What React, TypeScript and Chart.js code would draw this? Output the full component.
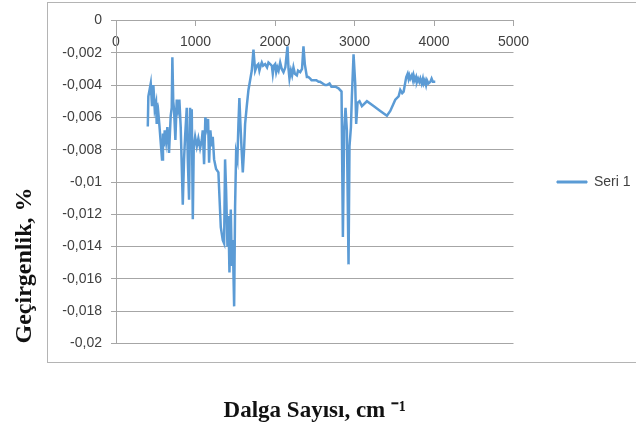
import React, { useEffect, useRef } from "react";
import { Chart, registerables } from "chart.js";

Chart.register(...registerables);

const seriesLabel = "Seri 1";
const xTitle = "Dalga Sayısı, cm ⁻¹";
const yTitle = "Geçirgenlik, %";

const wavenumbers = [
  400, 407, 437, 453, 470, 487, 504, 512, 532, 546, 579, 591, 600, 613, 630, 646, 667, 688, 701, 709,
  720, 730, 747, 764, 781, 797, 814, 827, 840, 856, 869, 890, 903, 919, 932, 944, 953, 966, 978, 995,
  1016, 1036, 1058, 1079, 1091, 1108, 1124, 1142, 1158, 1171, 1187, 1205, 1217, 1234, 1259, 1288, 1318, 1343, 1360, 1372,
  1385, 1402, 1414, 1427, 1444, 1457, 1469, 1486, 1498, 1511, 1527, 1540, 1552, 1565, 1578, 1595, 1611, 1624, 1645, 1666,
  1687, 1708, 1729, 1750, 1771, 1790, 1804, 1820, 1834, 1850, 1876, 1900, 1918, 1940, 1960, 1972, 1985, 2002, 2015, 2030,
  2045, 2065, 2085, 2107, 2130, 2157, 2170, 2182, 2200, 2215, 2232, 2250, 2275, 2290, 2317, 2340, 2358, 2375, 2401, 2420,
  2443, 2460, 2485, 2520, 2548, 2568, 2600, 2630, 2653, 2686, 2710, 2736, 2760, 2799, 2837, 2854, 2870, 2887, 2904, 2925,
  2937, 2955, 2967, 2988, 3009, 3021, 3038, 3063, 3093, 3156, 3240, 3324, 3408, 3450, 3513, 3555, 3576, 3600, 3618, 3640,
  3651, 3668, 3680, 3690, 3702, 3720, 3735, 3744, 3760, 3775, 3786, 3800, 3815, 3828, 3845, 3860, 3870, 3885, 3900, 3912,
  3930, 3954, 3970, 3987, 4016,
];

const transmittance = [
  -0.00656, -0.0047, -0.0039, -0.0053, -0.004, -0.0055, -0.0051, -0.0064, -0.0057, -0.0065, -0.0086, -0.007, -0.0078, -0.0068, -0.0075, -0.0066, -0.0082, -0.0059, -0.0054, -0.00227,
  -0.005, -0.0055, -0.0074, -0.0049, -0.0055, -0.0049, -0.0066, -0.009, -0.0114, -0.0086, -0.0072, -0.0054, -0.0086, -0.0111, -0.0054, -0.0076, -0.0055, -0.0123, -0.0078, -0.0072,
  -0.0078, -0.0073, -0.0079, -0.0074, -0.0068, -0.0089, -0.006, -0.0066, -0.0061, -0.0088, -0.0068, -0.0078, -0.0072, -0.0086, -0.0092, -0.0094, -0.0128, -0.0136, -0.0138, -0.0086,
  -0.0105, -0.014, -0.0121, -0.0156, -0.0117, -0.0152, -0.0136, -0.0177, -0.0115, -0.0082, -0.0086, -0.0064, -0.0048, -0.0064, -0.0078, -0.0094, -0.008, -0.0064, -0.0053, -0.0043,
  -0.0037, -0.0031, -0.0018, -0.0031, -0.0028, -0.0027, -0.0031, -0.0028, -0.0026, -0.0028, -0.0027, -0.0029, -0.0026, -0.0027, -0.0028, -0.0033, -0.0028, -0.0027, -0.0032, -0.0029,
  -0.0031, -0.0026, -0.003, -0.0032, -0.0029, -0.0016, -0.003, -0.0036, -0.0031, -0.0034, -0.0029, -0.0033, -0.0034, -0.0031, -0.0032, -0.003, -0.0016, -0.0027, -0.0035, -0.0035,
  -0.0036, -0.0037, -0.0037, -0.0037, -0.0038, -0.0038, -0.0039, -0.004, -0.004, -0.0039, -0.0041, -0.0041, -0.0041, -0.0042, -0.0044, -0.0134, -0.0068, -0.0054, -0.0068, -0.0151,
  -0.0078, -0.0066, -0.0047, -0.0021, -0.0039, -0.0064, -0.0051, -0.005, -0.0053, -0.005, -0.0053, -0.0056, -0.0059, -0.0056, -0.0049, -0.0047, -0.0043, -0.0045, -0.0044, -0.0038,
  -0.0035, -0.0033, -0.0036, -0.0034, -0.0036, -0.0034, -0.0037, -0.0034, -0.0037, -0.0035, -0.0038, -0.0036, -0.0038, -0.0036, -0.0039, -0.0036, -0.0039, -0.0037, -0.004, -0.0037,
  -0.0039, -0.0038, -0.0036, -0.0038, -0.0038,
];

const xMin = 0;
const xMax = 5000;
const xStep = 1000;
const yMin = -0.02;
const yMax = 0;
const yStep = 0.002;

const GRID = "#a6a6a6";
const TEXT = "#404040";
const LINE = "#5b9bd5";

const frame = {
  id: "frame",
  beforeDraw(chart: any) {
    const ctx = chart.ctx;
    ctx.save();
    ctx.fillStyle = "#ffffff";
    ctx.fillRect(0, 0, chart.width, chart.height);
    ctx.strokeStyle = "#b4b4b4";
    ctx.lineWidth = 1;
    ctx.strokeRect(47.5, 2.5, 640, 360);
    ctx.restore();
  },
};

export default function App() {
  const ref = useRef<HTMLCanvasElement | null>(null);

  useEffect(() => {
    if (!ref.current) return;
    Chart.defaults.font.family = "'Liberation Sans', Arial, sans-serif";
    const points = wavenumbers.map((x, i) => ({ x, y: transmittance[i] }));
    const chart = new Chart(ref.current, {
      type: "line",
      data: {
        datasets: [
          {
            label: seriesLabel,
            data: points,
            borderColor: LINE,
            backgroundColor: LINE,
            borderWidth: 2.5,
            pointRadius: 0,
            tension: 0,
            fill: false,
          },
        ],
      },
      plugins: [frame],
      options: {
        responsive: false,
        animation: false,
        devicePixelRatio: 1,
        layout: { padding: { left: 0, top: 20.5, right: 0, bottom: 0 } },
        plugins: {
          tooltip: { enabled: false },
          legend: {
            position: "right",
            fullSize: false,
            align: "center",
            maxWidth: 80.4,
            labels: {
              color: TEXT,
              font: { size: 14 },
              boxWidth: 30,
              boxHeight: 2,
              padding: 1.4,
              generateLabels: (c: any) => {
                const items = (Chart as any).defaults.plugins.legend.labels.generateLabels(c);
                return items.map((it: any) => ({ ...it, lineWidth: 1, strokeStyle: LINE, fillStyle: LINE }));
              },
            },
          },
        },
        scales: {
          x: {
            type: "linear",
            position: { y: 0 } as any,
            min: xMin,
            max: xMax,
            grid: { drawOnChartArea: false, drawTicks: true, tickLength: 5, color: GRID },
            border: { display: true, color: GRID },
            ticks: {
              stepSize: xStep,
              color: TEXT,
              font: { size: 14 },
              padding: 8,
              maxRotation: 0,
              callback: (v: any) => String(v),
            },
          },
          xTitleAxis: {
            type: "linear",
            axis: "x",
            position: "bottom",
            min: xMin,
            max: xMax,
            grid: { display: false, drawTicks: false },
            border: { display: false },
            ticks: { display: false },
            title: {
              display: true,
              text: xTitle,
              color: "#111111",
              font: { family: "'Liberation Serif', 'Times New Roman', serif", size: 23, weight: "bold" },
              padding: { top: 0, bottom: 5 },
            },
            afterFit: (s: any) => {
              s.height = 86.5;
            },
          } as any,
          y: {
            type: "linear",
            position: "left",
            min: yMin,
            max: yMax,
            grid: { color: GRID, drawTicks: true, tickLength: 5 },
            border: { display: true, color: GRID },
            ticks: {
              stepSize: yStep,
              color: TEXT,
              font: { size: 14 },
              padding: 9,
              callback: (v: any) => {
                const r = Math.round(Number(v) * 1000) / 1000;
                return (r === 0 ? "0" : String(r)).replace(".", ",");
              },
            },
            title: {
              display: true,
              text: yTitle,
              align: "start",
              color: "#111111",
              font: { family: "'Liberation Serif', 'Times New Roman', serif", size: 24, weight: "bold" },
              padding: { top: 10, bottom: 0 },
            },
            afterFit: (s: any) => {
              s.width = 116;
            },
          },
          ySpacer: {
            type: "linear",
            axis: "y",
            position: "right",
            min: yMin,
            max: yMax,
            grid: { display: false, drawTicks: false },
            border: { display: false },
            ticks: { display: false },
            afterFit: (s: any) => {
              s.width = 42.1;
            },
          } as any,
        },
      },
    });
    return () => chart.destroy();
  }, []);

  return (
    <div style={{ position: "fixed", left: 0, top: 0, width: 636, height: 430, background: "#fff" }}>
      <canvas ref={ref} width={636} height={430} style={{ display: "block", width: 636, height: 430 }} />
    </div>
  );
}
